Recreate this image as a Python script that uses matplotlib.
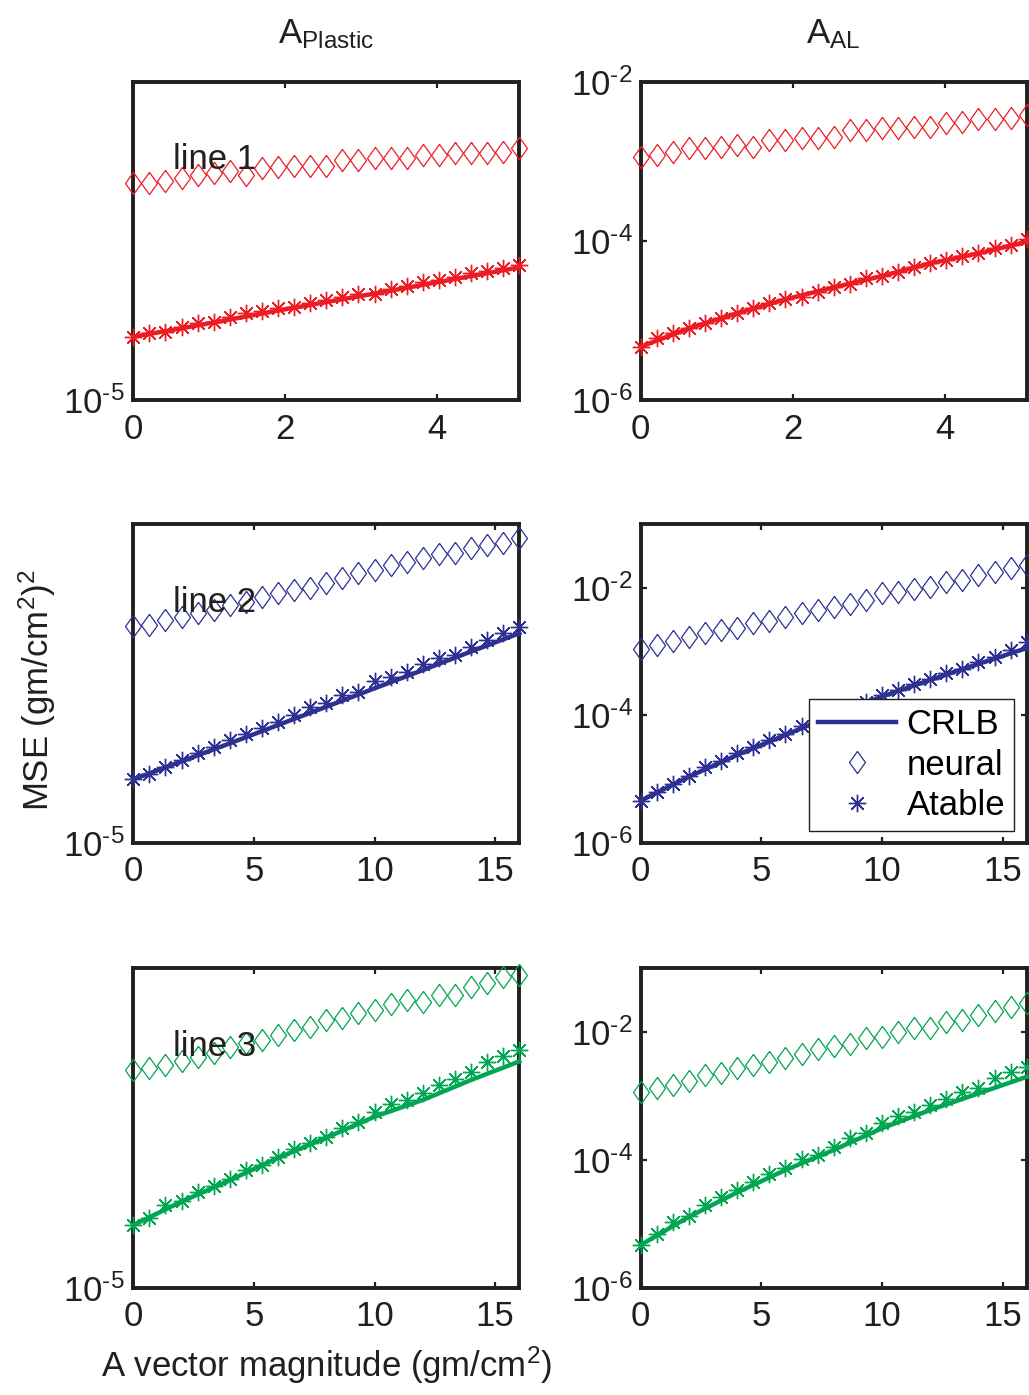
import numpy as np
import matplotlib
matplotlib.use("Agg")
from matplotlib import pyplot as plt
from matplotlib.lines import Line2D
from matplotlib.ticker import FuncFormatter, NullLocator

plt.rcParams['font.family'] = ['Liberation Sans', 'DejaVu Sans']
plt.rcParams['mathtext.fontset'] = 'custom'
plt.rcParams['mathtext.rm'] = 'Liberation Sans'
plt.rcParams['mathtext.it'] = 'Liberation Sans:italic'
plt.rcParams['mathtext.default'] = 'regular'
plt.rcParams['axes.unicode_minus'] = False

# sample positions (gm/cm^2)
x_row1 = [0, 0.212, 0.423, 0.635, 0.847, 1.058, 1.27, 1.482, 1.693, 1.905, 2.117, 2.328, 2.54,
          2.752, 2.963, 3.175, 3.387, 3.598, 3.81, 4.022, 4.233, 4.445, 4.657, 4.868, 5.08]
x_row23 = [0, 0.667, 1.333, 2, 2.667, 3.333, 4, 4.667, 5.333, 6, 6.667, 7.333, 8, 8.667, 9.333,
           10, 10.667, 11.333, 12, 12.667, 13.333, 14, 14.667, 15.333, 16]
xc_row1 = [0, 0.635, 1.27, 1.905, 2.54, 3.175, 3.81, 4.445, 5.08]
xc_row23 = [0, 2, 4, 6, 8, 10, 12, 14, 16]

# line 1
plastic1_neural = [4.80e-5, 4.82e-5, 4.89e-5, 4.97e-5, 5.09e-5, 5.15e-5, 5.25e-5, 5.09e-5, 5.35e-5,
                   5.41e-5, 5.43e-5, 5.43e-5, 5.43e-5, 5.68e-5, 5.68e-5, 5.74e-5, 5.74e-5, 5.74e-5,
                   5.89e-5, 5.89e-5, 5.96e-5, 5.96e-5, 5.96e-5, 6.03e-5, 6.18e-5]
plastic1_atable = [1.58e-5, 1.62e-5, 1.64e-5, 1.70e-5, 1.74e-5, 1.76e-5, 1.82e-5, 1.88e-5, 1.90e-5,
                   1.95e-5, 1.96e-5, 2.01e-5, 2.06e-5, 2.10e-5, 2.16e-5, 2.16e-5, 2.24e-5, 2.28e-5,
                   2.34e-5, 2.38e-5, 2.44e-5, 2.50e-5, 2.55e-5, 2.59e-5, 2.65e-5]
plastic1_crlb = [1.58e-5, 1.68e-5, 1.79e-5, 1.91e-5, 2.03e-5, 2.16e-5, 2.30e-5, 2.45e-5, 2.61e-5]
al1_neural = [1.14e-3, 1.20e-3, 1.32e-3, 1.45e-3, 1.45e-3, 1.49e-3, 1.60e-3, 1.49e-3, 1.85e-3,
              1.85e-3, 1.94e-3, 1.94e-3, 2.00e-3, 2.47e-3, 2.47e-3, 2.59e-3, 2.59e-3, 2.72e-3,
              2.72e-3, 2.99e-3, 3.14e-3, 3.36e-3, 3.36e-3, 3.46e-3, 3.80e-3]
al1_atable = [4.68e-6, 5.96e-6, 6.89e-6, 7.94e-6, 9.38e-6, 1.06e-5, 1.23e-5, 1.42e-5, 1.64e-5,
              1.84e-5, 1.99e-5, 2.30e-5, 2.60e-5, 2.86e-5, 3.38e-5, 3.61e-5, 4.09e-5, 4.65e-5,
              5.21e-5, 5.74e-5, 6.44e-5, 6.97e-5, 8.04e-5, 8.85e-5, 1.07e-4]
al1_crlb = [4.68e-6, 7.94e-6, 1.23e-5, 1.84e-5, 2.60e-5, 3.61e-5, 5.21e-5, 6.97e-5, 9.75e-5]

# line 2
plastic2_neural = [4.79e-5, 4.82e-5, 5.00e-5, 5.09e-5, 5.25e-5, 5.37e-5, 5.57e-5, 5.71e-5, 5.89e-5,
                   6.07e-5, 6.21e-5, 6.32e-5, 6.55e-5, 6.76e-5, 7.00e-5, 7.18e-5, 7.43e-5, 7.62e-5,
                   7.80e-5, 8.05e-5, 8.09e-5, 8.39e-5, 8.59e-5, 8.69e-5, 9.02e-5]
plastic2_atable = [1.58e-5, 1.64e-5, 1.73e-5, 1.82e-5, 1.91e-5, 2.00e-5, 2.10e-5, 2.20e-5, 2.29e-5,
                   2.40e-5, 2.52e-5, 2.67e-5, 2.74e-5, 2.91e-5, 2.98e-5, 3.21e-5, 3.32e-5, 3.44e-5,
                   3.64e-5, 3.79e-5, 3.88e-5, 4.12e-5, 4.33e-5, 4.54e-5, 4.76e-5]
plastic2_crlb = [1.58e-5, 1.80e-5, 2.05e-5, 2.34e-5, 2.67e-5, 3.05e-5, 3.48e-5, 3.98e-5, 4.54e-5]
al2_neural = [1.09e-3, 1.27e-3, 1.48e-3, 1.71e-3, 1.98e-3, 2.18e-3, 2.32e-3, 2.78e-3, 3.05e-3,
              3.53e-3, 4.08e-3, 4.50e-3, 5.07e-3, 5.58e-3, 6.46e-3, 8.41e-3, 8.71e-3, 9.51e-3,
              1.04e-2, 1.25e-2, 1.33e-2, 1.60e-2, 1.79e-2, 2.03e-2, 2.29e-2]
al2_atable = [4.56e-6, 6.33e-6, 8.34e-6, 1.11e-5, 1.52e-5, 1.94e-5, 2.53e-5, 3.21e-5, 4.09e-5,
              5.08e-5, 6.79e-5, 8.43e-5, 1.01e-4, 1.29e-4, 1.64e-4, 2.08e-4, 2.49e-4, 3.10e-4,
              3.67e-4, 4.56e-4, 5.27e-4, 6.93e-4, 8.32e-4, 1.06e-3, 1.43e-3]
al2_crlb = [4.56e-6, 1.09e-5, 2.38e-5, 4.91e-5, 1.01e-4, 1.96e-4, 3.58e-4, 6.38e-4, 1.13e-3]

# line 3
plastic3_neural = [4.81e-5, 4.86e-5, 4.98e-5, 5.13e-5, 5.28e-5, 5.42e-5, 5.69e-5, 5.82e-5, 5.97e-5,
                   6.18e-5, 6.41e-5, 6.56e-5, 6.89e-5, 6.98e-5, 7.23e-5, 7.41e-5, 7.73e-5, 7.96e-5,
                   7.87e-5, 8.26e-5, 8.26e-5, 8.77e-5, 8.97e-5, 9.42e-5, 9.53e-5]
plastic3_atable = [1.57e-5, 1.65e-5, 1.81e-5, 1.87e-5, 1.99e-5, 2.08e-5, 2.19e-5, 2.34e-5, 2.42e-5,
                   2.57e-5, 2.72e-5, 2.83e-5, 2.97e-5, 3.16e-5, 3.31e-5, 3.54e-5, 3.75e-5, 3.87e-5,
                   4.07e-5, 4.32e-5, 4.51e-5, 4.73e-5, 5.08e-5, 5.33e-5, 5.55e-5]
plastic3_crlb = [1.57e-5, 1.86e-5, 2.17e-5, 2.55e-5, 2.95e-5, 3.43e-5, 3.87e-5, 4.47e-5, 5.11e-5]
al3_neural = [1.17e-3, 1.35e-3, 1.49e-3, 1.72e-3, 2.13e-3, 2.26e-3, 2.71e-3, 3.05e-3, 3.37e-3,
              3.97e-3, 4.50e-3, 5.45e-3, 6.12e-3, 6.44e-3, 8.00e-3, 8.47e-3, 9.93e-3, 1.15e-2,
              1.15e-2, 1.46e-2, 1.55e-2, 1.85e-2, 2.14e-2, 2.50e-2, 2.82e-2]
al3_atable = [4.66e-6, 6.85e-6, 1.08e-5, 1.34e-5, 1.97e-5, 2.65e-5, 3.38e-5, 4.56e-5, 5.96e-5,
              7.55e-5, 1.03e-4, 1.19e-4, 1.61e-4, 2.18e-4, 2.61e-4, 3.74e-4, 4.92e-4, 5.68e-4,
              7.23e-4, 8.97e-4, 1.14e-3, 1.35e-3, 1.93e-3, 2.40e-3, 2.88e-3]
al3_crlb = [4.66e-6, 1.29e-5, 3.11e-5, 6.95e-5, 1.43e-4, 3.13e-4, 6.04e-4, 1.10e-3, 2.00e-3]

row_colors = ['#ED1C24', '#2E3192', '#00A651']
row_names = ['line 1', 'line 2', 'line 3']
col_titles = [r'$\mathregular{A_{Plastic}}$', r'$\mathregular{A_{AL}}$']

FS = 25
INK = '#231F20'
diamond = [(0, 1), (0.72, 0), (0, -1), (-0.72, 0), (0, 1)]
asterisk = (8, 2, 0)


def decade_label(v, pos):
    # short hyphen in the exponent, e.g. 10^-5
    e = int(round(np.log10(v)))
    return r'$10^{\text{-}%d}$' % (-e) if e < 0 else r'$10^{%d}$' % e


fig = plt.figure(figsize=(10.29, 13.95), dpi=100)
W, H = 1029.0, 1395.0

# pixel boxes of the six panels
col_px = [(133.3, 519.3), (640.7, 1026.7)]
row_px = [(81.7, 400.0), (524.0, 842.7), (968.3, 1287.7)]

panels = [
    [(x_row1, xc_row1, plastic1_neural, plastic1_atable, plastic1_crlb),
     (x_row1, xc_row1, al1_neural, al1_atable, al1_crlb)],
    [(x_row23, xc_row23, plastic2_neural, plastic2_atable, plastic2_crlb),
     (x_row23, xc_row23, al2_neural, al2_atable, al2_crlb)],
    [(x_row23, xc_row23, plastic3_neural, plastic3_atable, plastic3_crlb),
     (x_row23, xc_row23, al3_neural, al3_atable, al3_crlb)],
]

axes = {}
for r in range(3):
    for c in range(2):
        x0, x1 = col_px[c]
        y0, y1 = row_px[r]
        ax = fig.add_axes([x0 / W, 1 - y1 / H, (x1 - x0) / W, (y1 - y0) / H])
        axes[(r, c)] = ax
        x, xc, neural, atable, crlb = panels[r][c]
        col = row_colors[r]

        ax.plot(xc, crlb, '-', color=col, lw=3.2, clip_on=False, zorder=3)
        ax.plot(x, neural, linestyle='none', marker=diamond, ms=16, mfc='none', mec=col,
                mew=0.9, clip_on=False, zorder=4)
        ax.plot(x, atable, linestyle='none', marker=asterisk, ms=12.5, mec=col, mew=1.0,
                clip_on=False, zorder=4)

        ax.set_yscale('log')
        ax.set_xlim(0, x[-1])
        if c == 0:
            ax.set_ylim(1e-5, 1e-4)
            ax.set_yticks([1e-5])
        else:
            ax.set_ylim(1e-6, 1e-2 if r == 0 else 1e-1)
            ax.set_yticks([1e-6, 1e-4, 1e-2])
        ax.yaxis.set_major_formatter(FuncFormatter(decade_label))
        ax.yaxis.set_minor_locator(NullLocator())
        ax.set_xticks([0, 2, 4] if r == 0 else [0, 5, 10, 15])

        ax.tick_params(axis='both', which='major', direction='in', length=4, width=1.6,
                       top=True, right=True, labelsize=FS, colors=INK)
        ax.tick_params(axis='x', pad=9)
        ax.tick_params(axis='y', pad=6)
        for sp in ax.spines.values():
            sp.set_linewidth(2.8)
            sp.set_color(INK)

        if c == 0:
            ax.text(0.103, 0.755, row_names[r], transform=ax.transAxes, fontsize=FS,
                    ha='left', va='center', color=INK, zorder=5)
        if r == 0:
            ax.set_title(col_titles[c], fontsize=FS, pad=28, color=INK)

# legend on the middle right panel
c2 = row_colors[1]
handles = [
    Line2D([], [], color=c2, lw=3.2),
    Line2D([], [], linestyle='none', marker=diamond, ms=16, mfc='none', mec=c2, mew=0.9),
    Line2D([], [], linestyle='none', marker=asterisk, ms=12.5, mec=c2, mew=1.0),
]
leg = axes[(1, 1)].legend(handles, ['CRLB', 'neural', 'Atable'], loc='lower right',
                          bbox_to_anchor=(0.967, 0.037), borderaxespad=0, fontsize=FS,
                          fancybox=False, framealpha=1, edgecolor=INK,
                          handlelength=2.25, handletextpad=0.3, labelspacing=0.22,
                          borderpad=0.25)
leg.get_frame().set_linewidth(1.0)
leg.set_zorder(10)

fig.text(37 / W, 1 - 690 / H, r'MSE (gm/cm$^2$)$^2$', rotation=90, fontsize=FS,
         ha='center', va='center', color=INK)
fig.text(327 / W, 1 - 1365 / H, r'A vector magnitude (gm/cm$^2$)', fontsize=FS,
         ha='center', va='center', color=INK)

fig.savefig('out.png', dpi=100, facecolor='white')
